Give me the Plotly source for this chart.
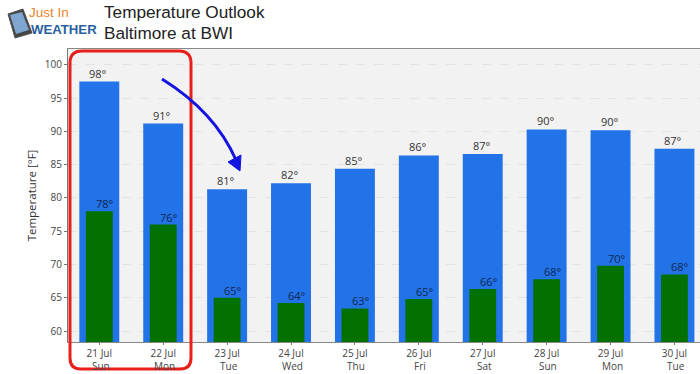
import plotly.graph_objects as go

dates = ["21 Jul", "22 Jul", "23 Jul", "24 Jul", "25 Jul", "26 Jul", "27 Jul", "28 Jul", "29 Jul", "30 Jul"]
weekdays = ["Sun", "Mon", "Tue", "Wed", "Thu", "Fri", "Sat", "Sun", "Mon", "Tue"]
high = [97.5, 91.2, 81.3, 82.2, 84.4, 86.4, 86.6, 90.3, 90.2, 87.4]
low = [78.0, 76.0, 65.0, 64.2, 63.4, 64.8, 66.3, 67.8, 69.8, 68.5]
high_labels = ["98°", "91°", "81°", "82°", "85°", "86°", "87°", "90°", "90°", "87°"]
low_labels = ["78°", "76°", "65°", "64°", "63°", "65°", "66°", "68°", "70°", "68°"]

W, H = 700, 374
L, R, T, B = 68, 700, 49, 342
FONT = "Open Sans"


def px(x):
    return (x - L) / (R - L)


def py(y):
    return (B - y) / (B - T)


def pth(fmt, *pts):
    vals = []
    for x, y in pts:
        vals += [px(x), py(y)]
    return fmt.format(*vals)


idx = list(range(len(dates)))
fig = go.Figure()
fig.add_trace(go.Bar(x=idx, y=high, width=0.625, marker=dict(color="#2272e8", line=dict(width=0)),
                     hoverinfo="skip"))
fig.add_trace(go.Bar(x=idx, y=low, width=0.42, marker=dict(color="#027102", line=dict(width=0)),
                     hoverinfo="skip"))

annotations = []
for i in idx:
    annotations.append(dict(x=i, y=high[i], text=high_labels[i], showarrow=False, yanchor="bottom",
                            xshift=-1, yshift=-1, font=dict(family=FONT, size=11, color="#333333")))
    annotations.append(dict(x=i, y=low[i], text=low_labels[i], showarrow=False, yanchor="bottom",
                            xshift=6, yshift=-2, font=dict(family=FONT, size=11, color="#10284f")))
    annotations.append(dict(x=i, xref="x", y=py(365.5), yref="paper", text=weekdays[i], showarrow=False,
                            xshift=1.5, yanchor="middle", font=dict(family=FONT, size=10, color="#444444")))

# Heading and logo text
annotations += [
    dict(xref="paper", yref="paper", x=px(102), y=py(12), text="Temperature Outlook", showarrow=False,
         xanchor="left", yanchor="middle", font=dict(family="Liberation Sans", size=17.2, color="#222222")),
    dict(xref="paper", yref="paper", x=px(102), y=py(33), text="Baltimore at BWI", showarrow=False,
         xanchor="left", yanchor="middle", font=dict(family="Liberation Sans", size=17.2, color="#222222")),
    dict(xref="paper", yref="paper", x=px(27), y=py(13), text="Just In", showarrow=False,
         xanchor="left", yanchor="middle", font=dict(family="Liberation Sans", size=13.5, color="#e8842a")),
    dict(xref="paper", yref="paper", x=px(29), y=py(29), text="<b>WEATHER</b>", showarrow=False,
         xanchor="left", yanchor="middle", font=dict(family="Liberation Sans", size=13.2, color="#2a5f9e")),
]

shapes = [
    # logo phone
    dict(type="path", xref="paper", yref="paper", layer="above",
         path=pth("M {} {} L {} {} L {} {} L {} {} Z", (8, 14), (23, 9), (32, 33), (15, 38)),
         fillcolor="#444444", line=dict(color="#555555", width=1)),
    dict(type="path", xref="paper", yref="paper", layer="above",
         path=pth("M {} {} L {} {} L {} {} L {} {} Z", (10, 15), (22, 12), (29, 30), (16, 34)),
         fillcolor="#7fa6cf", line=dict(width=0)),
    # red rounded box
    dict(type="path", xref="paper", yref="paper", layer="above",
         path=pth("M {} {} L {} {} Q {} {} {} {} L {} {} Q {} {} {} {} L {} {} Q {} {} {} {} L {} {} Q {} {} {} {} Z",
                  (70, 63), (70, 358), (70, 369), (81, 369), (180, 369), (191, 369), (191, 358),
                  (191, 63), (191, 51), (179, 51), (82, 51), (70, 51), (70, 63)),
         line=dict(color="#e8201c", width=3)),
    # blue arrow
    dict(type="path", xref="paper", yref="paper", layer="above",
         path=pth("M {} {} Q {} {} {} {}", (162, 79), (215, 112), (236, 160)),
         line=dict(color="#1414e0", width=3)),
    dict(type="path", xref="paper", yref="paper", layer="above",
         path=pth("M {} {} L {} {} L {} {} Z", (228, 162), (241, 155), (240, 171)),
         fillcolor="#1414e0", line=dict(color="#1414e0", width=1)),
]

fig.update_layout(
    width=W, height=H, autosize=False, barmode="overlay", showlegend=False,
    margin=dict(l=L, r=W - R, t=T, b=H - B, pad=0),
    paper_bgcolor="#ffffff", plot_bgcolor="#f3f2f3",
    font=dict(family=FONT, size=10, color="#444444"),
    annotations=annotations, shapes=shapes,
    xaxis=dict(range=[-0.49, 9.4], tickmode="array", tickvals=idx, ticktext=dates,
               showgrid=False, zeroline=False, showline=True, linecolor="#888888", linewidth=1,
               ticks="outside", ticklen=2, tickcolor="#777777", mirror=True,
               tickfont=dict(family=FONT, size=10, color="#444444")),
    yaxis=dict(range=[58.35, 102.4], tickmode="array", tickvals=[60, 65, 70, 75, 80, 85, 90, 95, 100],
               showgrid=True, gridcolor="#e4e3e4", griddash="dash", gridwidth=1, zeroline=False,
               showline=True, linecolor="#777777", linewidth=1, ticks="outside", ticklen=3,
               tickcolor="#777777", mirror=False,
               title=dict(text="Temperature [°F]", standoff=5, font=dict(family=FONT, size=11.5, color="#333333")),
               tickfont=dict(family=FONT, size=10, color="#444444")),
)
fig.write_html("out.html", post_script="document.body.style.margin='0';document.body.style.overflow='hidden';",
               config={"displayModeBar": False})
